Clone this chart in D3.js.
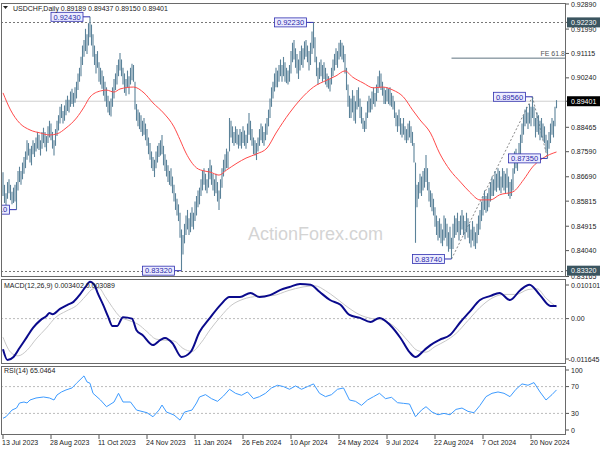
<!DOCTYPE html>
<html><head><meta charset="utf-8">
<script src="https://cdn.jsdelivr.net/npm/d3@7"></script>
<style>body{margin:0;background:#fff}svg{display:block}text{font-family:"Liberation Sans",Arial,sans-serif}</style>
</head><body><svg id="c" width="600" height="450"></svg>
<script>
// ---- data (prices in 1e-4 units) ----
const highs = [8685,8640,8610,8650,8660,8640,8615,8630,8640,8650,
8690,8705,8690,8720,8740,8760,8800,8790,8770,8780,
8800,8790,8810,8830,8820,8800,8830,8845,8830,8815,
8850,8870,8860,8830,8800,8840,8870,8890,8920,8930,
8905,8925,8945,8960,8945,8975,8985,8970,8990,9010,
9040,9060,9100,9140,9160,9200,9180,9220,9243,9215,
9180,9140,9110,9120,9080,9060,9050,9030,9010,8990,
8960,8940,8950,8990,9020,9040,9070,9090,9113,9090,
9060,9040,9020,9050,9030,9060,9075,9070,9010,8930,
8910,8900,8890,8870,8880,8860,8840,8810,8790,8760,
8740,8730,8760,8780,8790,8800,8819,8780,8750,8730,
8710,8690,8700,8670,8640,8610,8590,8570,8540,8480,
8460,8500,8530,8550,8520,8540,8560,8540,8580,8600,
8620,8630,8660,8690,8700,8680,8660,8700,8730,8710,
8680,8660,8680,8650,8620,8660,8700,8730,8750,8770,
8760,8880,8870,8850,8830,8850,8840,8820,8840,8830,
8850,8835,8820,8860,8898,8870,8840,8810,8800,8790,
8810,8840,8860,8850,8830,8860,8880,8910,8950,8990,
9010,9040,9060,9050,9070,9090,9070,9099,9080,9060,
9050,9070,9120,9150,9160,9130,9110,9090,9120,9140,
9130,9155,9160,9140,9120,9150,9190,9223,9170,9100,
9060,9080,9090,9070,9080,9060,9040,9030,9020,9060,
9090,9110,9130,9120,9150,9160,9150,9140,9110,9060,
9000,8960,8950,8980,8960,8940,8980,8990,8950,8920,
8880,8870,8900,8940,8960,8950,8975,8990,8970,9000,
9030,9050,9040,9010,8990,8980,8990,8985,8990,8970,
8960,8940,8900,8890,8910,8880,8860,8880,8850,8840,
8860,8870,8850,8830,8790,8720,8640,8650,8680,8670,
8690,8700,8747,8700,8650,8620,8610,8590,8560,8530,
8510,8520,8500,8480,8530,8520,8500,8470,8490,8450,
8500,8530,8520,8540,8510,8530,8550,8530,8510,8540,
8520,8500,8480,8510,8490,8470,8500,8530,8550,8580,
8600,8620,8600,8610,8630,8650,8670,8660,8690,8680,
8700,8690,8670,8700,8690,8680,8700,8670,8650,8660,
8700,8760,8770,8750,8790,8820,8860,8890,8910,8920,
8900,8930,8920,8956,8920,8880,8900,8890,8870,8880,
8860,8850,8820,8800,8830,8860,8880,8870,8920,8944];
const lows = [8600,8575,8560,8590,8610,8585,8570,8575,8580,8551,
8620,8650,8640,8660,8680,8700,8730,8745,8720,8710,
8750,8740,8760,8770,8765,8745,8770,8790,8775,8760,
8790,8810,8800,8770,8745,8780,8815,8835,8860,8880,
8860,8870,8890,8905,8900,8920,8930,8920,8935,8950,
8980,9010,9030,9070,9100,9120,9110,9140,9170,9140,
9100,9070,9040,9060,9010,9000,8985,8960,8940,8920,
8900,8890,8885,8920,8950,8980,9000,9030,9050,9030,
9000,8970,8960,8990,8965,9000,9015,9010,8910,8870,
8850,8840,8830,8815,8820,8800,8780,8750,8730,8700,
8690,8668,8700,8720,8740,8745,8750,8710,8690,8670,
8650,8640,8635,8610,8580,8550,8530,8510,8450,8332,
8390,8430,8460,8480,8460,8470,8490,8480,8510,8530,
8560,8570,8600,8620,8640,8620,8610,8630,8660,8640,
8620,8600,8610,8580,8550,8590,8630,8670,8690,8700,
8700,8760,8810,8790,8780,8790,8785,8770,8780,8770,
8790,8780,8770,8790,8820,8800,8780,8750,8745,8729,
8760,8780,8800,8790,8780,8800,8820,8850,8880,8920,
8950,8975,8990,8990,9010,9030,9010,9030,9010,9005,
9000,9010,9040,9080,9090,9060,9040,9020,9050,9070,
9060,9090,9100,9080,9050,9070,9110,9130,9080,9030,
9000,9020,9030,9010,9020,9000,8990,8985,8975,9000,
9030,9050,9070,9060,9090,9100,9090,9080,9040,8980,
8920,8880,8880,8900,8870,8860,8910,8920,8880,8860,
8840,8830,8840,8880,8900,8900,8910,8930,8920,8940,
8970,8990,8980,8960,8930,8930,8940,8930,8925,8920,
8910,8880,8850,8830,8850,8820,8810,8820,8800,8790,
8800,8810,8790,8780,8720,8432,8560,8590,8610,8600,
8620,8630,8650,8620,8580,8560,8545,8530,8490,8460,
8440,8450,8430,8420,8440,8450,8420,8400,8410,8374,
8410,8450,8460,8470,8440,8460,8480,8460,8445,8470,
8450,8430,8415,8440,8420,8410,8430,8460,8480,8510,
8530,8550,8540,8545,8560,8580,8600,8600,8620,8615,
8630,8620,8610,8630,8620,8610,8630,8600,8590,8600,
8620,8680,8700,8690,8720,8750,8790,8820,8850,8860,
8840,8860,8850,8880,8850,8810,8830,8820,8800,8810,
8800,8790,8760,8735,8770,8790,8820,8810,8850,8915];
// moving average (red), sampled at bar indices
const maIdx = [0,5,11,18,25,31,36,42,49,54,58,65,69,74,78,87,94,100,107,114,118,122,129,134,138,144,149,156,162,169,176,182,191,198,207,216,222,228,233,240,247,253,260,267,273,278,285,291,298,305,311,318,325,331,340,347,353,360,369];
const maVal = [8970,8909,8862,8837,8826,8819,8823,8844,8880,8919,8955,8977,8980,8973,8984,8991,8970,8934,8898,8848,8802,8754,8701,8690,8686,8675,8693,8718,8736,8751,8772,8826,8898,8945,8991,9016,9031,9049,9027,9006,8988,8991,8980,8955,8909,8873,8826,8754,8693,8650,8615,8586,8586,8604,8615,8658,8704,8736,8758];
// MACD main & signal
const macdIdx = [0,3,7,11,16,20,25,29,31,33,38,43,47,51,55,58,61,63,67,70,73,76,80,86,89,93,100,105,108,113,119,125,131,138,145,151,158,165,171,178,185,191,198,205,211,218,225,231,238,245,251,258,265,271,275,281,285,291,298,305,311,318,325,331,338,345,351,358,365,369];
const macdVal = [-0.0082,-0.0111,-0.0103,-0.0079,-0.0049,-0.0025,-0.0004,0.0007,0.0015,0.0012,0.0026,0.0037,0.0045,0.0063,0.0085,0.0099,0.0090,0.0070,0.0035,0.0006,-0.0020,-0.0020,0.0004,0.0000,-0.0031,-0.0044,-0.0071,-0.0057,-0.0052,-0.0066,-0.0103,-0.0090,-0.0036,0.0002,0.0037,0.0058,0.0058,0.0069,0.0058,0.0063,0.0077,0.0085,0.0093,0.0091,0.0072,0.0050,0.0037,0.0010,0.0002,-0.0009,0.0002,-0.0017,-0.0052,-0.0090,-0.0103,-0.0084,-0.0071,-0.0057,-0.0044,-0.0009,0.0018,0.0050,0.0061,0.0069,0.0050,0.0077,0.0091,0.0063,0.0034,0.0034];
const sigIdx = [0,5,10,16,22,29,35,42,49,55,60,64,68,73,78,84,90,96,102,108,114,120,126,132,138,145,152,160,170,180,190,200,208,215,222,230,238,246,254,262,270,276,282,288,295,302,310,318,326,334,342,350,356,362,369];
const sigVal = [-0.0050,-0.0090,-0.0100,-0.0085,-0.0055,-0.0025,0.0003,0.0020,0.0035,0.0060,0.0080,0.0082,0.0060,0.0030,0.0005,-0.0005,-0.0015,-0.0035,-0.0055,-0.0058,-0.0060,-0.0080,-0.0088,-0.0065,-0.0030,0.0005,0.0035,0.0052,0.0060,0.0062,0.0075,0.0085,0.0088,0.0075,0.0055,0.0030,0.0010,0.0000,-0.0005,-0.0025,-0.0060,-0.0085,-0.0090,-0.0075,-0.0060,-0.0040,-0.0005,0.0030,0.0055,0.0065,0.0065,0.0078,0.0080,0.0055,0.0031];
// RSI(14)
const rsiIdx = [0,2,6,9,11,14,16,18,22,27,31,34,36,39,42,46,49,54,56,58,60,65,69,74,77,80,85,89,96,100,104,106,109,114,118,121,126,129,131,135,139,143,147,151,155,159,163,167,171,175,179,183,187,191,195,199,203,207,211,215,219,223,227,231,235,239,243,247,251,255,259,263,267,271,275,279,282,286,290,294,298,302,306,310,314,318,322,326,330,334,338,342,346,350,354,358,362,366,369];
const rsiVal = [22.7,25,35,38,45.5,47,45.5,50,53,54.5,53,50,57.5,62,65,68,75,86,77,75,60,50,40,47,60,47,47,35,31,25,35,42.5,32,27.6,20,32,35,45.5,54.5,58,52,48,56,66,60,57,62,52,55,60,68,72,70,66,71,66,70,74,60,55,58,66,68,50,48,42,50,55,60,52,54,46,45,44,25,35,40,32,28,30,28,36,38,33,31,42,55,60,62,60,55,66,74,72,76,62,50,58,65.05];
// axis labels
const priceTicks = [0.92890,0.91990,0.91115,0.90240,0.88465,0.87590,0.86690,0.85815,0.84915,0.84040,0.83165];
const dateTickIdx = [0,32,64,96,128,160,192,224,256,288,320,352];
const dateLabels = ["13 Jul 2023","28 Aug 2023","11 Oct 2023","24 Nov 2023","11 Jan 2024","26 Feb 2024","10 Apr 2024","24 May 2024","9 Jul 2024","22 Aug 2024","7 Oct 2024","20 Nov 2024"];
const swingIdx = [9,58,119,207,299,353,363];
const swingVal = [0.85510,0.92430,0.83320,0.92230,0.83740,0.89560,0.87350];
const lastPrice = 0.89401, hiLine = 0.92230, loLine = 0.83320, feLevel = 0.90947;
const header = "USDCHF,Daily  0.89189 0.89437 0.89150 0.89401";
const macdTitle = "MACD(12,26,9) 0.003402 0.003089";
const rsiTitle = "RSI(14) 65.0464";

// ---- drawing ----
const svg = d3.select("#c");
const P = v => v/10000;
const L = 1, R = 566;
const x = d3.scaleLinear().domain([0, highs.length-1]).range([3, 556.5]);
const yP = d3.scaleLinear().domain([0.83165, 0.92890]).range([275, 4]);
const yM = d3.scaleLinear().domain([-0.011645, 0.010101]).range([362, 281]);
const yR = d3.scaleLinear().domain([0,100]).range([433.5, 366.5]);
const panes = [[3,277],[279,364],[366,435]];
const defs = svg.append("defs");
panes.forEach((p,i)=>defs.append("clipPath").attr("id","cp"+i).append("rect").attr("x",L).attr("y",p[0]).attr("width",R-L).attr("height",p[1]-p[0]));
svg.append("rect").attr("width",600).attr("height",450).attr("fill","#fff");
const g0 = svg.append("g").attr("clip-path","url(#cp0)");
// watermark
g0.append("text").attr("x",248).attr("y",240).attr("font-size",18).attr("fill","#d4d4d4").text("ActionForex.com");
// level lines
g0.append("line").attr("x1",L).attr("x2",R).attr("y1",yP(lastPrice)).attr("y2",yP(lastPrice)).attr("stroke","#cfcfcf");
[hiLine, loLine].forEach(v=>g0.append("line").attr("x1",L).attr("x2",R).attr("y1",Math.round(yP(v))+0.5).attr("y2",Math.round(yP(v))+0.5).attr("stroke","#777").attr("stroke-dasharray","2,2"));
g0.append("line").attr("x1",x(299)).attr("x2",R).attr("y1",yP(feLevel)).attr("y2",yP(feLevel)).attr("stroke","#5f7380");
g0.append("text").attr("x",R-1).attr("y",yP(feLevel)-2.5).attr("text-anchor","end").attr("font-size",7).attr("fill","#555").text("FE 61.8");
// dotted swing lines
[[299,0.83740,353,0.89560],[353,0.89560,363,0.87350]].forEach(s=>g0.append("line").attr("x1",x(s[0])).attr("y1",yP(s[1])).attr("x2",x(s[2])).attr("y2",yP(s[3])).attr("stroke","#888").attr("stroke-dasharray","2,2"));
// bars
g0.append("g").selectAll("line").data(highs).join("line")
  .attr("x1",(d,i)=>x(i)).attr("x2",(d,i)=>x(i))
  .attr("y1",d=>yP(P(d))).attr("y2",(d,i)=>yP(P(lows[i])))
  .attr("stroke","#5b8299").attr("stroke-width",1.1);
// MA
g0.append("path").datum(maIdx.map((d,i)=>[d,maVal[i]])).attr("fill","none").attr("stroke","#ff4a4a").attr("stroke-width",1)
  .attr("d",d3.line().x(d=>x(d[0])).y(d=>yP(P(d[1]))).curve(d3.curveMonotoneX));
// swing labels
swingIdx.forEach((si,k)=>{
  const v = swingVal[k], yy = yP(v), bx = x(si)-7;
  g0.append("line").attr("x1",bx).attr("x2",x(si)).attr("y1",yy).attr("y2",yy).attr("stroke","#3030b0");
  g0.append("rect").attr("x",bx-32).attr("y",yy-4.5).attr("width",32).attr("height",9).attr("fill","#ececff").attr("stroke","#3030b0").attr("stroke-width",0.8);
  g0.append("text").attr("x",bx-16).attr("y",yy+0.3).attr("text-anchor","middle").attr("dominant-baseline","central").attr("font-size",7.5).attr("fill","#2828a8").text(v.toFixed(5));
});
// header
svg.append("path").attr("d","M3,6 L8,6 L5.5,9 Z").attr("fill","#222");
svg.append("text").attr("x",13).attr("y",10.5).attr("font-size",7).attr("fill","#222").text(header);

// MACD pane
const g1 = svg.append("g").attr("clip-path","url(#cp1)");
g1.append("line").attr("x1",L).attr("x2",R).attr("y1",yM(0)).attr("y2",yM(0)).attr("stroke","#bbb").attr("stroke-dasharray","2,2");
g1.append("path").datum(sigIdx.map((d,i)=>[d,sigVal[i]])).attr("fill","none").attr("stroke","#c8c8c8").attr("stroke-width",1)
  .attr("d",d3.line().x(d=>x(d[0])).y(d=>yM(d[1])).curve(d3.curveMonotoneX));
g1.append("path").datum(macdIdx.map((d,i)=>[d,macdVal[i]])).attr("fill","none").attr("stroke","#0a0a8c").attr("stroke-width",2)
  .attr("d",d3.line().x(d=>x(d[0])).y(d=>yM(d[1])).curve(d3.curveMonotoneX));
svg.append("text").attr("x",4).attr("y",288).attr("font-size",7).attr("fill","#222").text(macdTitle);

// RSI pane
const g2 = svg.append("g").attr("clip-path","url(#cp2)");
[70,30].forEach(v=>g2.append("line").attr("x1",L).attr("x2",R).attr("y1",yR(v)).attr("y2",yR(v)).attr("stroke","#bbb").attr("stroke-dasharray","2,2"));
g2.append("path").datum(rsiIdx.map((d,i)=>[d,rsiVal[i]])).attr("fill","none").attr("stroke","#3d9bff").attr("stroke-width",1)
  .attr("d",d3.line().x(d=>x(d[0])).y(d=>yR(d[1])).curve(d3.curveLinear));
svg.append("text").attr("x",4).attr("y",373).attr("font-size",7).attr("fill","#222").text(rsiTitle);

// pane borders
panes.forEach(p=>svg.append("rect").attr("x",L+0.5).attr("y",p[0]+0.5).attr("width",R-L-1).attr("height",p[1]-p[0]-1).attr("fill","none").attr("stroke","#6a6a6a"));

// right axis (price)
const ax = svg.append("g").attr("font-size",7).attr("fill","#222");
function rLabel(yy, t, bg, dx){
  ax.append("line").attr("x1",R).attr("x2",R+3).attr("y1",yy).attr("y2",yy).attr("stroke","#555");
  if(bg){ax.append("rect").attr("x",R+1).attr("y",yy-5).attr("width",33).attr("height",10).attr("fill",bg);}
  ax.append("text").attr("x",R+(dx==null?5:dx)).attr("y",yy).attr("dominant-baseline","central").attr("fill",bg?"#fff":"#222").text(t);
}
priceTicks.forEach(v=>rLabel(v===0.83165?yP(v)+1.5:yP(v), v.toFixed(5)));
rLabel(yP(hiLine), hiLine.toFixed(5), "#3b5560");
rLabel(yP(loLine), loLine.toFixed(5), "#3b5560");
rLabel(yP(lastPrice), lastPrice.toFixed(5), "#000");
// MACD axis
rLabel(285, "0.010101");
rLabel(yM(0), "0.00");
rLabel(359, "-0.011645", null, 2.5);
// RSI axis
[[100,370],[70,yR(70)],[30,yR(30)],[0,430]].forEach(d=>rLabel(d[1], String(d[0])));
// x axis
dateTickIdx.forEach((di,k)=>{
  svg.append("line").attr("x1",x(di)).attr("x2",x(di)).attr("y1",435).attr("y2",439).attr("stroke","#555");
  svg.append("text").attr("x",x(di)-1).attr("y",445).attr("font-size",7).attr("fill","#222").text(dateLabels[k]);
});
</script></body></html>
